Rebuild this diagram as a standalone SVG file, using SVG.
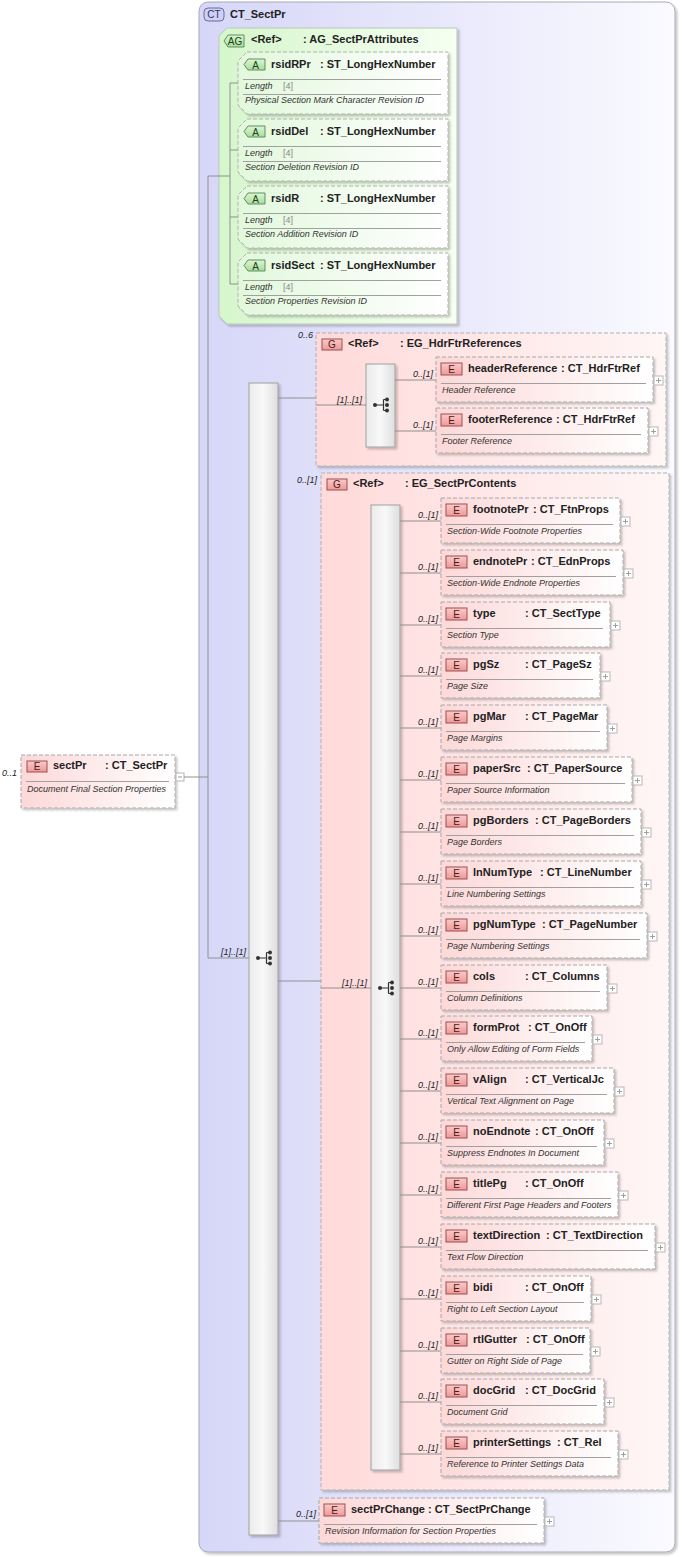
<svg xmlns="http://www.w3.org/2000/svg" xmlns:xlink="http://www.w3.org/1999/xlink" width="682" height="1557" viewBox="0 0 682 1557">
<defs>
<style>
.n{font:bold 11px "Liberation Sans",Arial,sans-serif;fill:#222}
.d{font:italic 9px "Liberation Sans",Arial,sans-serif;fill:#333}
.m{font:italic 9px "Liberation Sans",Arial,sans-serif;fill:#222}
.g{font:9px "Liberation Sans",Arial,sans-serif;fill:#888}
.bl{font:10px "Liberation Sans",Arial,sans-serif;text-anchor:middle}
.eb{fill:url(#gE);stroke:#a8a8a8;stroke-dasharray:4 2;filter:url(#sh)}
.gb{fill:url(#gG);stroke:#b0b0b0;stroke-dasharray:4 2;filter:url(#sh)}
.ab{fill:url(#gA);stroke:#b0b0b0;stroke-dasharray:4 2;filter:url(#sh)}
.be{fill:url(#gBE);stroke:#9a5050}
.ba{fill:url(#gBA);stroke:#5f8f5f}
.sq{fill:url(#gS);stroke:#a0a0a0;filter:url(#sh)}
.sp{stroke:#a0a0a0;stroke-width:1}
.c{stroke:#909090;stroke-width:1;fill:none}
</style>
<filter id="sh" x="-10%" y="-10%" width="130%" height="130%">
<feDropShadow dx="2" dy="2" stdDeviation="1.3" flood-color="#000" flood-opacity="0.22"/>
</filter>
<linearGradient id="gCT" x1="0" y1="0" x2="1" y2="0"><stop offset="0" stop-color="#d6d6f8"/><stop offset="1" stop-color="#fafaff"/></linearGradient>
<linearGradient id="gAG" x1="0" y1="0" x2="1" y2="0"><stop offset="0" stop-color="#d6f6cc"/><stop offset="1" stop-color="#f6fff2"/></linearGradient>
<linearGradient id="gA" x1="0" y1="0" x2="1" y2="0"><stop offset="0" stop-color="#e2f8dc"/><stop offset="1" stop-color="#ffffff"/></linearGradient>
<linearGradient id="gE" x1="0" y1="0" x2="1" y2="0"><stop offset="0" stop-color="#fdd8d8"/><stop offset="1" stop-color="#ffffff"/></linearGradient>
<linearGradient id="gG" x1="0" y1="0" x2="1" y2="0"><stop offset="0" stop-color="#ffdada"/><stop offset="1" stop-color="#fff6f6"/></linearGradient>
<linearGradient id="gS" x1="0" y1="0" x2="1" y2="0"><stop offset="0" stop-color="#ebebeb"/><stop offset="0.5" stop-color="#f8f8f8"/><stop offset="1" stop-color="#dedede"/></linearGradient>
<linearGradient id="gBE" x1="0" y1="0" x2="0" y2="1"><stop offset="0" stop-color="#fbcaca"/><stop offset="1" stop-color="#ef9898"/></linearGradient>
<linearGradient id="gBA" x1="0" y1="0" x2="0" y2="1"><stop offset="0" stop-color="#dcf6d4"/><stop offset="1" stop-color="#a8dc9c"/></linearGradient>
<g id="plus"><rect width="9" height="9" fill="#fff" stroke="#b8b8b8"/><path d="M2 4.5h5M4.5 2v5" stroke="#a0a0a0"/></g>
<g id="seqi" fill="#333" stroke="#333"><circle cx="-5.5" cy="0" r="2" stroke="none"/><path d="M-5.5 0H3M3 -5.5V5.5M3 -5.5H6.5M3 5.5H6.5" fill="none" stroke-width="1.2"/><circle cx="6.5" cy="-5.5" r="2" stroke="none"/><circle cx="6.5" cy="0" r="2" stroke="none"/><circle cx="6.5" cy="5.5" r="2" stroke="none"/></g>
</defs>

<g id="ct-sectpr">
<rect x="199" y="2" width="476" height="1550" rx="9" fill="url(#gCT)" stroke="#a8a8b8" filter="url(#sh)"/>
<rect x="204" y="8" width="20" height="13" rx="4" fill="#cfd0f4" stroke="#6a6aa0"/>
<text class="bl" x="214" y="18" fill="#303060">CT</text>
<text class="n" x="230" y="18">CT_SectPr</text>
</g>

<g id="sectPr">
<rect class="eb" x="21" y="755" width="154" height="53"/>
<rect class="be" x="27" y="761" width="20" height="11"/><text class="bl" x="37" y="770" fill="#4a1a1a">E</text>
<text class="n" x="53" y="769">sectPr</text><text class="n" x="105" y="769">: CT_SectPr</text>
<line class="sp" x1="26" y1="781.5" x2="169" y2="781.5"/>
<text class="d" x="27" y="792">Document Final Section Properties</text>
<rect x="176" y="773" width="8" height="8" fill="#fff" stroke="#b4b4b4"/><path d="M178 777h4" stroke="#999"/>
</g>

<g id="ag-sectprattributes">
<path d="M227 28H457V324H227L219 316V36Z" fill="url(#gAG)" stroke="#b8c8b8" filter="url(#sh)"/>
<path class="ba" d="M228 35H244V47H228L224 41Z"/><text class="bl" x="235" y="45" fill="#204020">AG</text>
<text class="n" x="251" y="43">&lt;Ref&gt;</text><text class="n" x="303" y="43">: AG_SectPrAttributes</text>
</g>

<g id="attr-rsidRPr" transform="translate(0,52)">
<path class="ab" d="M247 0H448V62H247L238 53V9Z"/>
<path class="ba" d="M248 7H265V18H248L244 12.5Z"/><text class="bl" x="255.5" y="16.5" fill="#204020">A</text>
<text class="n" x="271" y="16">rsidRPr</text><text class="n" x="320" y="16">: ST_LongHexNumber</text>
<line class="sp" x1="243" y1="27.5" x2="441" y2="27.5"/>
<text class="d" x="245" y="37">Length</text><text class="g" x="283" y="37">[4]</text>
<line class="sp" x1="243" y1="42.5" x2="441" y2="42.5"/>
<text class="d" x="245" y="51">Physical Section Mark Character Revision ID</text>
</g>
<g id="attr-rsidDel" transform="translate(0,119)">
<path class="ab" d="M247 0H448V62H247L238 53V9Z"/>
<path class="ba" d="M248 7H265V18H248L244 12.5Z"/><text class="bl" x="255.5" y="16.5" fill="#204020">A</text>
<text class="n" x="271" y="16">rsidDel</text><text class="n" x="320" y="16">: ST_LongHexNumber</text>
<line class="sp" x1="243" y1="27.5" x2="441" y2="27.5"/>
<text class="d" x="245" y="37">Length</text><text class="g" x="283" y="37">[4]</text>
<line class="sp" x1="243" y1="42.5" x2="441" y2="42.5"/>
<text class="d" x="245" y="51">Section Deletion Revision ID</text>
</g>
<g id="attr-rsidR" transform="translate(0,186)">
<path class="ab" d="M247 0H448V62H247L238 53V9Z"/>
<path class="ba" d="M248 7H265V18H248L244 12.5Z"/><text class="bl" x="255.5" y="16.5" fill="#204020">A</text>
<text class="n" x="271" y="16">rsidR</text><text class="n" x="320" y="16">: ST_LongHexNumber</text>
<line class="sp" x1="243" y1="27.5" x2="441" y2="27.5"/>
<text class="d" x="245" y="37">Length</text><text class="g" x="283" y="37">[4]</text>
<line class="sp" x1="243" y1="42.5" x2="441" y2="42.5"/>
<text class="d" x="245" y="51">Section Addition Revision ID</text>
</g>
<g id="attr-rsidSect" transform="translate(0,253)">
<path class="ab" d="M247 0H448V62H247L238 53V9Z"/>
<path class="ba" d="M248 7H265V18H248L244 12.5Z"/><text class="bl" x="255.5" y="16.5" fill="#204020">A</text>
<text class="n" x="271" y="16">rsidSect</text><text class="n" x="320" y="16">: ST_LongHexNumber</text>
<line class="sp" x1="243" y1="27.5" x2="441" y2="27.5"/>
<text class="d" x="245" y="37">Length</text><text class="g" x="283" y="37">[4]</text>
<line class="sp" x1="243" y1="42.5" x2="441" y2="42.5"/>
<text class="d" x="245" y="51">Section Properties Revision ID</text>
</g>

<g id="seq-main">
<rect class="sq" x="249" y="383" width="29" height="1152"/>
<use href="#seqi" x="263.5" y="958"/>
</g>

<g id="eg-hdrftrreferences">
<rect class="gb" x="316" y="333" width="350" height="133"/>
<rect class="be" x="322" y="339" width="20" height="11"/><text class="bl" x="332" y="348" fill="#4a1a1a">G</text>
<text class="n" x="348" y="347">&lt;Ref&gt;</text><text class="n" x="400" y="347">: EG_HdrFtrReferences</text>
</g>
<g id="seq-hdr">
<rect class="sq" x="366" y="364" width="29" height="83"/>
<use href="#seqi" x="380.5" y="405"/>
</g>

<g id="eg-sectprcontents">
<rect class="gb" x="321" y="473" width="348" height="1017"/>
<rect class="be" x="327" y="479" width="20" height="11"/><text class="bl" x="337" y="488" fill="#4a1a1a">G</text>
<text class="n" x="353" y="487">&lt;Ref&gt;</text><text class="n" x="405" y="487">: EG_SectPrContents</text>
</g>
<g id="seq-contents">
<rect class="sq" x="371" y="505" width="29" height="965"/>
<use href="#seqi" x="385.5" y="988"/>
</g>

<g id="connectors">
<path class="c" d="M184 777H208M208 176V958M208 958H249M208 176H230M230 83V284M230 83H238M230 150H238M230 217H238M230 284H238"/>
<path class="c" d="M278 398H316M316 405H366M395 380H436M395 431H436"/>
<path class="c" d="M278 981H321M321 988H371"/>
<path class="c" d="M400 521H441M400 573H441M400 625H441M400 676H441M400 728H441M400 780H441M400 832H441M400 884H441M400 936H441M400 988H441M400 1039H441M400 1091H441M400 1143H441M400 1195H441M400 1247H441M400 1299H441M400 1351H441M400 1402H441M400 1454H441"/>
<path class="c" d="M278 1521H319"/>
<g text-anchor="end">
<text class="m" x="2" y="776" text-anchor="start">0..1</text>
<text class="m" x="246" y="955">[1]..[1]</text>
<text class="m" x="313" y="338">0..6</text>
<text class="m" x="362" y="403">[1]..[1]</text>
<text class="m" x="433" y="377">0..[1]</text>
<text class="m" x="433" y="428">0..[1]</text>
<text class="m" x="317" y="483">0..[1]</text>
<text class="m" x="367" y="986">[1]..[1]</text>
<text class="m" x="316" y="1517">0..[1]</text>
<text class="m" x="438" y="518">0..[1]</text>
<text class="m" x="438" y="570">0..[1]</text>
<text class="m" x="438" y="622">0..[1]</text>
<text class="m" x="438" y="673">0..[1]</text>
<text class="m" x="438" y="725">0..[1]</text>
<text class="m" x="438" y="777">0..[1]</text>
<text class="m" x="438" y="829">0..[1]</text>
<text class="m" x="438" y="881">0..[1]</text>
<text class="m" x="438" y="933">0..[1]</text>
<text class="m" x="438" y="985">0..[1]</text>
<text class="m" x="438" y="1036">0..[1]</text>
<text class="m" x="438" y="1088">0..[1]</text>
<text class="m" x="438" y="1140">0..[1]</text>
<text class="m" x="438" y="1192">0..[1]</text>
<text class="m" x="438" y="1244">0..[1]</text>
<text class="m" x="438" y="1296">0..[1]</text>
<text class="m" x="438" y="1348">0..[1]</text>
<text class="m" x="438" y="1399">0..[1]</text>
<text class="m" x="438" y="1451">0..[1]</text>
</g>
</g>

<g id="headerReference" transform="translate(436,357)">
<rect class="eb" width="217" height="45"/>
<rect class="be" x="5" y="6" width="21" height="12"/><text class="bl" x="15.5" y="15.5" fill="#4a1a1a">E</text>
<text class="n" x="32" y="15">headerReference</text><text class="n" x="125" y="15">: CT_HdrFtrRef</text>
<line class="sp" x1="5" y1="26.5" x2="210" y2="26.5"/>
<text class="d" x="6" y="36">Header Reference</text>
<use href="#plus" x="218" y="19"/>
</g>
<g id="footerReference" transform="translate(436,408)">
<rect class="eb" width="212" height="45"/>
<rect class="be" x="5" y="6" width="21" height="12"/><text class="bl" x="15.5" y="15.5" fill="#4a1a1a">E</text>
<text class="n" x="32" y="15">footerReference</text><text class="n" x="120" y="15">: CT_HdrFtrRef</text>
<line class="sp" x1="5" y1="26.5" x2="205" y2="26.5"/>
<text class="d" x="6" y="36">Footer Reference</text>
<use href="#plus" x="213" y="19"/>
</g>

<g id="footnotePr" transform="translate(441,498)">
<rect class="eb" width="179" height="45"/>
<rect class="be" x="5" y="6" width="21" height="12"/><text class="bl" x="15.5" y="15.5" fill="#4a1a1a">E</text>
<text class="n" x="32" y="15">footnotePr</text><text class="n" x="92" y="15">: CT_FtnProps</text>
<line class="sp" x1="5" y1="26.5" x2="172" y2="26.5"/>
<text class="d" x="6" y="36">Section-Wide Footnote Properties</text>
<use href="#plus" x="180" y="19"/>
</g>
<g id="endnotePr" transform="translate(441,550)">
<rect class="eb" width="182" height="45"/>
<rect class="be" x="5" y="6" width="21" height="12"/><text class="bl" x="15.5" y="15.5" fill="#4a1a1a">E</text>
<text class="n" x="32" y="15">endnotePr</text><text class="n" x="90" y="15">: CT_EdnProps</text>
<line class="sp" x1="5" y1="26.5" x2="175" y2="26.5"/>
<text class="d" x="6" y="36">Section-Wide Endnote Properties</text>
<use href="#plus" x="183" y="19"/>
</g>
<g id="type" transform="translate(441,602)">
<rect class="eb" width="169" height="45"/>
<rect class="be" x="5" y="6" width="21" height="12"/><text class="bl" x="15.5" y="15.5" fill="#4a1a1a">E</text>
<text class="n" x="32" y="15">type</text><text class="n" x="84" y="15">: CT_SectType</text>
<line class="sp" x1="5" y1="26.5" x2="162" y2="26.5"/>
<text class="d" x="6" y="36">Section Type</text>
<use href="#plus" x="170" y="19"/>
</g>
<g id="pgSz" transform="translate(441,653)">
<rect class="eb" width="159" height="45"/>
<rect class="be" x="5" y="6" width="21" height="12"/><text class="bl" x="15.5" y="15.5" fill="#4a1a1a">E</text>
<text class="n" x="32" y="15">pgSz</text><text class="n" x="84" y="15">: CT_PageSz</text>
<line class="sp" x1="5" y1="26.5" x2="152" y2="26.5"/>
<text class="d" x="6" y="36">Page Size</text>
<use href="#plus" x="160" y="19"/>
</g>
<g id="pgMar" transform="translate(441,705)">
<rect class="eb" width="166" height="45"/>
<rect class="be" x="5" y="6" width="21" height="12"/><text class="bl" x="15.5" y="15.5" fill="#4a1a1a">E</text>
<text class="n" x="32" y="15">pgMar</text><text class="n" x="84" y="15">: CT_PageMar</text>
<line class="sp" x1="5" y1="26.5" x2="159" y2="26.5"/>
<text class="d" x="6" y="36">Page Margins</text>
<use href="#plus" x="167" y="19"/>
</g>
<g id="paperSrc" transform="translate(441,757)">
<rect class="eb" width="191" height="45"/>
<rect class="be" x="5" y="6" width="21" height="12"/><text class="bl" x="15.5" y="15.5" fill="#4a1a1a">E</text>
<text class="n" x="32" y="15">paperSrc</text><text class="n" x="86" y="15">: CT_PaperSource</text>
<line class="sp" x1="5" y1="26.5" x2="184" y2="26.5"/>
<text class="d" x="6" y="36">Paper Source Information</text>
<use href="#plus" x="192" y="19"/>
</g>
<g id="pgBorders" transform="translate(441,809)">
<rect class="eb" width="200" height="45"/>
<rect class="be" x="5" y="6" width="21" height="12"/><text class="bl" x="15.5" y="15.5" fill="#4a1a1a">E</text>
<text class="n" x="32" y="15">pgBorders</text><text class="n" x="94" y="15">: CT_PageBorders</text>
<line class="sp" x1="5" y1="26.5" x2="193" y2="26.5"/>
<text class="d" x="6" y="36">Page Borders</text>
<use href="#plus" x="201" y="19"/>
</g>
<g id="lnNumType" transform="translate(441,861)">
<rect class="eb" width="200" height="45"/>
<rect class="be" x="5" y="6" width="21" height="12"/><text class="bl" x="15.5" y="15.5" fill="#4a1a1a">E</text>
<text class="n" x="32" y="15">lnNumType</text><text class="n" x="99" y="15">: CT_LineNumber</text>
<line class="sp" x1="5" y1="26.5" x2="193" y2="26.5"/>
<text class="d" x="6" y="36">Line Numbering Settings</text>
<use href="#plus" x="201" y="19"/>
</g>
<g id="pgNumType" transform="translate(441,913)">
<rect class="eb" width="206" height="45"/>
<rect class="be" x="5" y="6" width="21" height="12"/><text class="bl" x="15.5" y="15.5" fill="#4a1a1a">E</text>
<text class="n" x="32" y="15">pgNumType</text><text class="n" x="101" y="15">: CT_PageNumber</text>
<line class="sp" x1="5" y1="26.5" x2="199" y2="26.5"/>
<text class="d" x="6" y="36">Page Numbering Settings</text>
<use href="#plus" x="207" y="19"/>
</g>
<g id="cols" transform="translate(441,965)">
<rect class="eb" width="166" height="45"/>
<rect class="be" x="5" y="6" width="21" height="12"/><text class="bl" x="15.5" y="15.5" fill="#4a1a1a">E</text>
<text class="n" x="32" y="15">cols</text><text class="n" x="84" y="15">: CT_Columns</text>
<line class="sp" x1="5" y1="26.5" x2="159" y2="26.5"/>
<text class="d" x="6" y="36">Column Definitions</text>
<use href="#plus" x="167" y="19"/>
</g>
<g id="formProt" transform="translate(441,1016)">
<rect class="eb" width="151" height="45"/>
<rect class="be" x="5" y="6" width="21" height="12"/><text class="bl" x="15.5" y="15.5" fill="#4a1a1a">E</text>
<text class="n" x="32" y="15">formProt</text><text class="n" x="87" y="15">: CT_OnOff</text>
<line class="sp" x1="5" y1="26.5" x2="144" y2="26.5"/>
<text class="d" x="6" y="36">Only Allow Editing of Form Fields</text>
<use href="#plus" x="152" y="19"/>
</g>
<g id="vAlign" transform="translate(441,1068)">
<rect class="eb" width="173" height="45"/>
<rect class="be" x="5" y="6" width="21" height="12"/><text class="bl" x="15.5" y="15.5" fill="#4a1a1a">E</text>
<text class="n" x="32" y="15">vAlign</text><text class="n" x="84" y="15">: CT_VerticalJc</text>
<line class="sp" x1="5" y1="26.5" x2="166" y2="26.5"/>
<text class="d" x="6" y="36">Vertical Text Alignment on Page</text>
<use href="#plus" x="174" y="19"/>
</g>
<g id="noEndnote" transform="translate(441,1120)">
<rect class="eb" width="163" height="45"/>
<rect class="be" x="5" y="6" width="21" height="12"/><text class="bl" x="15.5" y="15.5" fill="#4a1a1a">E</text>
<text class="n" x="32" y="15">noEndnote</text><text class="n" x="94" y="15">: CT_OnOff</text>
<line class="sp" x1="5" y1="26.5" x2="156" y2="26.5"/>
<text class="d" x="6" y="36">Suppress Endnotes In Document</text>
<use href="#plus" x="164" y="19"/>
</g>
<g id="titlePg" transform="translate(441,1172)">
<rect class="eb" width="177" height="45"/>
<rect class="be" x="5" y="6" width="21" height="12"/><text class="bl" x="15.5" y="15.5" fill="#4a1a1a">E</text>
<text class="n" x="32" y="15">titlePg</text><text class="n" x="84" y="15">: CT_OnOff</text>
<line class="sp" x1="5" y1="26.5" x2="170" y2="26.5"/>
<text class="d" x="6" y="36">Different First Page Headers and Footers</text>
<use href="#plus" x="178" y="19"/>
</g>
<g id="textDirection" transform="translate(441,1224)">
<rect class="eb" width="214" height="45"/>
<rect class="be" x="5" y="6" width="21" height="12"/><text class="bl" x="15.5" y="15.5" fill="#4a1a1a">E</text>
<text class="n" x="32" y="15">textDirection</text><text class="n" x="105" y="15">: CT_TextDirection</text>
<line class="sp" x1="5" y1="26.5" x2="207" y2="26.5"/>
<text class="d" x="6" y="36">Text Flow Direction</text>
<use href="#plus" x="215" y="19"/>
</g>
<g id="bidi" transform="translate(441,1276)">
<rect class="eb" width="150" height="45"/>
<rect class="be" x="5" y="6" width="21" height="12"/><text class="bl" x="15.5" y="15.5" fill="#4a1a1a">E</text>
<text class="n" x="32" y="15">bidi</text><text class="n" x="84" y="15">: CT_OnOff</text>
<line class="sp" x1="5" y1="26.5" x2="143" y2="26.5"/>
<text class="d" x="6" y="36">Right to Left Section Layout</text>
<use href="#plus" x="151" y="19"/>
</g>
<g id="rtlGutter" transform="translate(441,1328)">
<rect class="eb" width="149" height="45"/>
<rect class="be" x="5" y="6" width="21" height="12"/><text class="bl" x="15.5" y="15.5" fill="#4a1a1a">E</text>
<text class="n" x="32" y="15">rtlGutter</text><text class="n" x="85" y="15">: CT_OnOff</text>
<line class="sp" x1="5" y1="26.5" x2="142" y2="26.5"/>
<text class="d" x="6" y="36">Gutter on Right Side of Page</text>
<use href="#plus" x="150" y="19"/>
</g>
<g id="docGrid" transform="translate(441,1379)">
<rect class="eb" width="163" height="45"/>
<rect class="be" x="5" y="6" width="21" height="12"/><text class="bl" x="15.5" y="15.5" fill="#4a1a1a">E</text>
<text class="n" x="32" y="15">docGrid</text><text class="n" x="84" y="15">: CT_DocGrid</text>
<line class="sp" x1="5" y1="26.5" x2="156" y2="26.5"/>
<text class="d" x="6" y="36">Document Grid</text>
<use href="#plus" x="164" y="19"/>
</g>
<g id="printerSettings" transform="translate(441,1431)">
<rect class="eb" width="177" height="45"/>
<rect class="be" x="5" y="6" width="21" height="12"/><text class="bl" x="15.5" y="15.5" fill="#4a1a1a">E</text>
<text class="n" x="32" y="15">printerSettings</text><text class="n" x="116" y="15">: CT_Rel</text>
<line class="sp" x1="5" y1="26.5" x2="170" y2="26.5"/>
<text class="d" x="6" y="36">Reference to Printer Settings Data</text>
<use href="#plus" x="178" y="19"/>
</g>

<g id="sectPrChange" transform="translate(319,1498)">
<rect class="eb" width="225" height="45"/>
<rect class="be" x="5" y="6" width="21" height="12"/><text class="bl" x="15.5" y="15.5" fill="#4a1a1a">E</text>
<text class="n" x="32" y="15">sectPrChange</text><text class="n" x="109" y="15">: CT_SectPrChange</text>
<line class="sp" x1="5" y1="26.5" x2="218" y2="26.5"/>
<text class="d" x="6" y="36">Revision Information for Section Properties</text>
<use href="#plus" x="226" y="19"/>
</g>
</svg>
